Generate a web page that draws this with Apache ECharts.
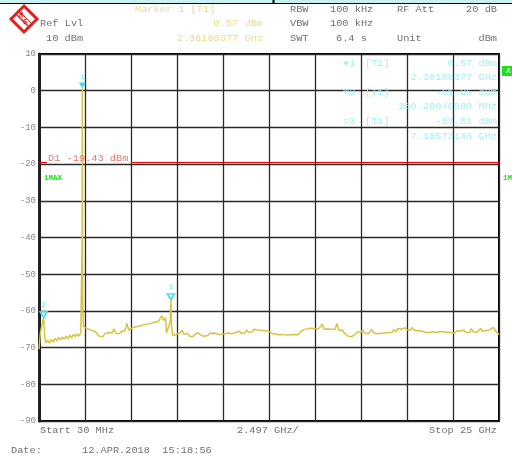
<!DOCTYPE html>
<html><head><meta charset="utf-8">
<script src="https://cdn.jsdelivr.net/npm/echarts@6/dist/echarts.min.js"></script>
<style>html,body{margin:0;padding:0;background:#fff}#c{width:512px;height:459px}</style>
</head><body><div id="c"></div>
<script>
// Sweep points (GHz) and measured trace level (dBm)
const freqGHz = [
0.03,0.06,0.10,0.14,0.18,0.22,0.26,0.28,0.31,0.35,0.40,0.45,
0.5,0.6,0.7,0.8,0.9,1.0,1.1,1.2,1.3,1.4,1.5,1.6,1.7,1.8,1.9,2.0,2.1,2.2,2.3,2.35,
2.372,2.38188,2.392,2.405,2.43,2.5,
2.6,2.7,2.8,2.9,3.0,3.1,3.2,3.3,3.4,3.5,3.6,3.7,3.8,3.9,4.0,4.1,4.2,4.3,4.4,4.5,4.6,4.7,4.8,4.9,
5.0,5.1,5.2,5.3,5.4,5.5,5.6,5.7,5.8,5.9,6.0,6.1,6.2,6.3,6.4,6.5,6.6,6.7,6.8,6.9,
6.95,7.05,7.15,7.18573,7.22,7.3,
7.4,7.5,7.6,7.7,7.8,7.9,8.0,8.1,8.2,8.3,8.4,8.5,8.6,8.7,8.8,8.9,9.0,9.1,9.2,9.3,9.4,9.5,9.6,9.7,9.8,9.9,
10.0,10.1,10.2,10.3,10.4,10.5,10.6,10.7,10.8,10.9,11.0,11.1,11.2,11.3,11.4,11.5,11.6,11.7,11.8,11.9,
12.0,12.1,12.2,12.3,12.4,12.5,12.6,12.7,12.8,12.9,13.0,13.1,13.2,13.3,13.4,13.5,13.6,13.7,13.8,13.9,
14.0,14.1,14.2,14.3,14.4,14.5,14.6,14.7,14.8,14.9,15.0,15.1,15.2,15.3,15.4,15.5,15.6,15.7,15.8,15.9,
16.0,16.1,16.2,16.3,16.4,16.5,16.6,16.7,16.8,16.9,17.0,17.1,17.2,17.3,17.4,17.5,17.6,17.7,17.8,17.9,
18.0,18.1,18.2,18.3,18.4,18.5,18.6,18.7,18.8,18.9,19.0,19.1,19.2,19.3,19.4,19.5,19.6,19.7,19.8,19.9,
20.0,20.1,20.2,20.3,20.4,20.5,20.6,20.7,20.8,20.9,21.0,21.1,21.2,21.3,21.4,21.5,21.6,21.7,21.8,21.9,
22.0,22.1,22.2,22.3,22.4,22.5,22.6,22.7,22.8,22.9,23.0,23.1,23.2,23.3,23.4,23.5,23.6,23.7,23.8,23.9,
24.0,24.1,24.2,24.3,24.4,24.5,24.6,24.7,24.8,24.9,25.0
];
const levelDbm = [
-70.4,-68.5,-66.2,-65.8,-64.0,-63.2,-63.5,-61.85,-64.5,-67.6,-68.6,-68.3,
-68.0,-68.7,-67.8,-68.5,-67.5,-68.2,-67.2,-67.9,-67.1,-67.7,-66.9,-67.6,-66.6,-67.3,-66.4,-67.0,-66.3,-66.9,-65.9,-65.6,
-40.0,0.57,-42.0,-58.0,-63.6,-64.5,
-64.3,-64.9,-64.6,-65.3,-65.0,-65.7,-66.2,-66.9,-66.5,-67.0,-66.2,-66.6,-65.9,-66.4,-66.0,-64.9,-66.1,-65.7,-66.2,-65.6,-65.9,-65.3,-63.4,-65.2,
-65.0,-64.6,-65.1,-64.3,-64.8,-64.1,-64.5,-63.8,-64.3,-63.6,-64.0,-63.4,-63.8,-63.1,-63.5,-62.9,-63.3,-61.3,-62.6,-61.9,
-66.0,-66.5,-63.0,-57.01,-64.0,-66.8,
-66.9,-66.3,-66.8,-65.9,-65.3,-66.4,-66.7,-66.1,-66.9,-66.4,-67.0,-66.3,-66.8,-66.0,-66.6,-66.2,-66.9,-66.4,-66.7,-66.1,-66.6,-66.0,-65.6,-66.3,-66.8,-66.4,
-66.9,-66.3,-66.6,-66.0,-66.5,-66.2,-66.7,-65.9,-66.3,-65.5,-66.1,-65.6,-66.0,-65.2,-65.8,-65.3,-65.7,-65.0,-65.5,-65.2,
-65.6,-65.3,-65.8,-65.4,-65.7,-65.5,-65.9,-66.2,-66.5,-66.3,-66.7,-66.5,-66.9,-66.4,-66.8,-66.6,-67.0,-66.5,-66.9,-66.4,
-66.1,-66.5,-65.8,-65.5,-65.1,-65.4,-64.9,-65.2,-64.7,-65.1,-64.8,-65.2,-64.9,-65.3,-63.6,-65.0,-65.3,-64.9,-65.4,-65.0,
-65.5,-65.1,-63.4,-65.3,-65.6,-65.2,-66.0,-66.5,-66.9,-66.6,-67.0,-66.7,-66.4,-65.7,-66.1,-65.8,-65.2,-66.0,-65.6,-66.2,
-65.7,-65.1,-66.0,-65.5,-66.2,-65.8,-66.1,-65.6,-66.0,-65.5,-65.9,-65.4,-65.8,-65.1,-65.7,-64.8,-65.3,-65.0,-65.5,-64.6,
-65.2,-64.9,-65.2,-64.5,-65.3,-65.7,-65.4,-65.9,-65.5,-66.0,-65.8,-66.3,-65.9,-66.4,-65.7,-66.2,-65.9,-66.4,-65.6,-66.1,
-65.7,-66.2,-65.8,-65.5,-65.9,-65.6,-66.1,-65.4,-65.9,-65.5,-66.0,-65.2,-65.8,-65.4,-65.9,-64.8,-65.7,-65.3,-65.8,-65.4,
-64.8,-65.6,-65.9,-65.3,-65.7,-65.2,-65.6,-64.5,-65.4,-65.9,-66.4
];
const yTicks = [10,0,-10,-20,-30,-40,-50,-60,-70,-80,-90];
const markers = [
  {name:'1', f:2.38188, v:0.57, filled:true},
  {name:'2', f:0.28, v:-61.85, filled:false},
  {name:'3', f:7.18573, v:-57.01, filled:false}
];
const displayLine = -19.43;
const startGHz = 0.03, stopGHz = 25, divGHz = 2.497;

const traceData = freqGHz.map((f,i)=>[f, levelDbm[i]]);
const MONO = '"Liberation Mono","DejaVu Sans Mono",monospace';
const G = [];
function txt(x,y,t,color,align,opt){
  opt = opt||{};
  G.push({type:'text', x:x, y:y, scaleY: opt.sy||0.8, z:100,
    style:{text:t, fill:color, font:(opt.bold?'bold ':'')+(opt.size||10.3)+'px '+MONO,
      textAlign:align||'left', textVerticalAlign:'middle'}});
}
// top band
G.push({type:'rect', shape:{x:0,y:0,width:512,height:3}, style:{fill:'#c6f2f2'}});
G.push({type:'line', shape:{x1:0,y1:3.5,x2:512,y2:3.5}, style:{stroke:'#000',lineWidth:1}});
G.push({type:'line', shape:{x1:273.5,y1:0,x2:273.5,y2:4}, style:{stroke:'#000',lineWidth:2}});
// R&S logo
G.push({type:'polygon', shape:{points:[[24,6],[37,19],[24,32],[11,19]]}, style:{fill:'#fff',stroke:'#e02020',lineWidth:3}});
G.push({type:'line', shape:{x1:17,y1:15,x2:28,y2:26}, style:{stroke:'#e02020',lineWidth:1.5}});
G.push({type:'line', shape:{x1:20,y1:12,x2:31,y2:23}, style:{stroke:'#e02020',lineWidth:1}});
G.push({type:'text', x:21, y:15, style:{text:'R', fill:'#e02020', font:'bold 7px '+MONO, textAlign:'center', textVerticalAlign:'middle'}});
G.push({type:'text', x:25, y:22, style:{text:'S', fill:'#e02020', font:'bold 7px '+MONO, textAlign:'center', textVerticalAlign:'middle'}});
const GRAY='#707070', YEL='#e8dc8c', CY='#a6f0f4';
txt(135,10,'Marker 1 [T1]',YEL);
txt(290,10,'RBW',GRAY); txt(330,10,'100 kHz',GRAY); txt(397,10,'RF Att',GRAY); txt(497,10,'20 dB',GRAY,'right');
txt(40,24,'Ref Lvl',GRAY); txt(263,24,'0.57 dBm',YEL,'right'); txt(290,24,'VBW',GRAY); txt(330,24,'100 kHz',GRAY);
txt(46,38.5,'10 dBm',GRAY); txt(263,38.5,'2.38188377 GHz',YEL,'right'); txt(290,38.5,'SWT',GRAY); txt(336,38.5,'6.4 s',GRAY); txt(397,38.5,'Unit',GRAY); txt(497,38.5,'dBm',GRAY,'right');
// marker table
txt(343,64,'\u25BC1',CY); txt(365,64,'[T1]',CY); txt(497,64,'0.57 dBm',CY,'right');
txt(497,78,'2.38188377 GHz',CY,'right');
txt(343,93,'\u25BD2',CY); txt(365,93,'[T1]',CY); txt(497,93,'-61.85 dBm',CY,'right');
txt(497,107,'280.20040080 MHz',CY,'right');
txt(343,122,'\u25BD3',CY); txt(365,122,'[T1]',CY); txt(497,122,'-57.01 dBm',CY,'right');
txt(497,137,'7.18573146 GHz',CY,'right');
// display line text and trace label
txt(48,159,'D1 -19.43 dBm','#f07474');
txt(44,178,'1MAX','#22dd22','left',{size:7.5,bold:true,sy:0.9});
txt(503,178,'1M','#22dd22','left',{size:7.5,bold:true,sy:0.9});
G.push({type:'rect', shape:{x:502,y:66,width:12,height:10}, style:{fill:'#22dd22'}});
G.push({type:'text', x:506, y:71, style:{text:'A', fill:'#c8ffc8', font:'bold 8px '+MONO, textAlign:'left', textVerticalAlign:'middle'}});
// bottom texts
txt(40,431,'Start 30 MHz',GRAY);
txt(237,431,'2.497 GHz/',GRAY);
txt(497,431,'Stop 25 GHz',GRAY,'right');
txt(11,451,'Date:',GRAY);
txt(82,451,'12.APR.2018  15:18:56',GRAY);

const markPts = markers.map(m=>({
  coord:[m.f,m.v], value:m.name,
  symbol:'triangle', symbolRotate:180, symbolSize:[7,6], symbolOffset:[0,-3],
  itemStyle:{color: m.filled?'#3fe0ee':'#cdf7fa', borderColor:'#3fe0ee', borderWidth: m.filled?0:1.5},
  label:{show:true, formatter:m.name, position:'top', distance:2, color:'#7fe6ee', fontSize:8, fontFamily:MONO}
}));

const chart = echarts.init(document.getElementById('c'), null, {renderer:'canvas'});
chart.setOption({
  animation:false,
  backgroundColor:'#fff',
  grid:{left:39, right:13, top:54, bottom:38, show:true, borderColor:'#000', borderWidth:2, backgroundColor:'transparent'},
  xAxis:[
    {type:'value', min:0, max:10, interval:1, axisLabel:{show:false}, axisTick:{show:false}, axisLine:{show:false},
     splitLine:{show:true, lineStyle:{color:'#2a2a2a', width:1.3}}},
    {type:'value', min:startGHz, max:stopGHz, show:false, splitLine:{show:false}}
  ],
  yAxis:{type:'value', min:-90, max:10, interval:10,
    axisLine:{show:true, lineStyle:{color:'#222', width:3}}, axisTick:{show:false},
    axisLabel:{color:'#8a8a8a', fontSize:9, fontFamily:MONO, margin:3,
      formatter:v=> yTicks.indexOf(v)>=0 ? String(v) : ''},
    splitLine:{show:true, lineStyle:{color:'#2a2a2a', width:1.3}}},
  graphic:G,
  series:[{
    type:'line', xAxisIndex:1, data:traceData, showSymbol:false, symbol:'none',
    lineStyle:{color:'#d6c440', width:1.5}, z:5,
    markLine:{silent:true, symbol:'none', label:{show:false},
      lineStyle:{color:'#f00000', width:1.1, type:'solid'},
      data:[
        [{coord:[startGHz,displayLine]},{coord:[0.46,displayLine]}],
        [{coord:[5.02,displayLine]},{coord:[stopGHz,displayLine]}]
      ]},
    markPoint:{data:markPts}
  }]
});
</script></body></html>
